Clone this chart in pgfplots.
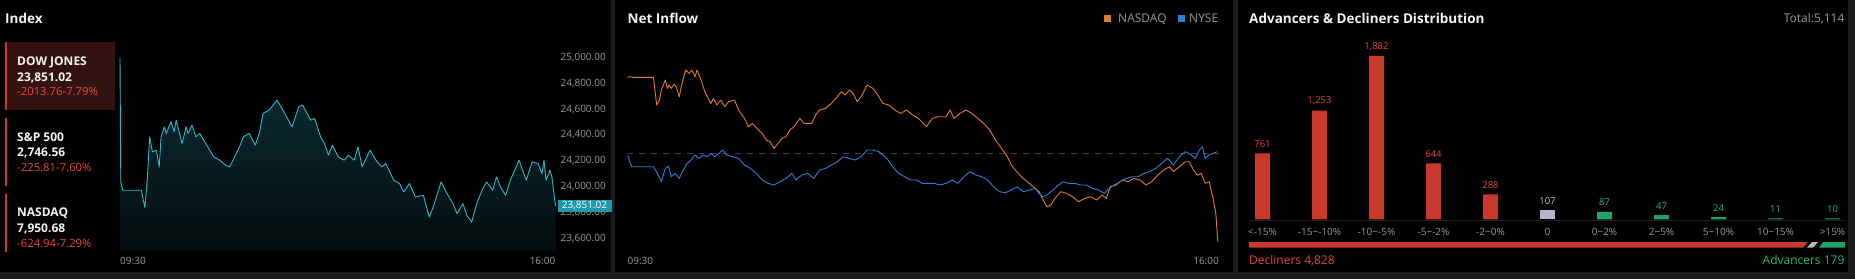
\documentclass[border=0pt]{standalone}
\usepackage{fontspec}
\setmainfont{Open Sans}
\usepackage{pgfplots}
\pgfplotsset{compat=1.18}
\usepackage{pgfplotstable}

\definecolor{sepc}{HTML}{1C1C1C}
\definecolor{titlec}{HTML}{F2F2F2}
\definecolor{tickc}{HTML}{9A9A9A}
\definecolor{redtxt}{HTML}{E5483C}
\definecolor{redbar}{HTML}{C8392B}
\definecolor{dowbg}{HTML}{331311}
\definecolor{cyanl}{HTML}{2CB8CC}
\definecolor{cyanbox}{HTML}{1A9AAB}
\definecolor{filltop}{HTML}{0C3138}
\definecolor{fillbot}{HTML}{040C0E}
\definecolor{orangel}{HTML}{E07B2C}
\definecolor{bluel}{HTML}{2A80DA}
\definecolor{greenbar}{HTML}{1FA36A}
\definecolor{greentxt}{HTML}{27B877}
\definecolor{graybar}{HTML}{B4B8C6}
\definecolor{graytxt}{HTML}{C8C8C8}
\definecolor{zeroc}{HTML}{404040}
\definecolor{basec}{HTML}{1E1E1E}

\pgfkeys{/pgf/number format/.cd, assume math mode=true, 1000 sep={,}}

% Dow Jones intraday (minutes after 09:30, index value)
\pgfplotstableread{
t v
0 25000
0.7 24037
2.5 23972
19.1 23972
22.3 23838
24.4 24050
26.6 24386
29.0 24269
32.6 24282
35.1 24153
36.8 24386
39.7 24463
41.4 24412
45.7 24502
48.5 24425
50.3 24515
55.6 24334
59.2 24463
60.9 24412
64.5 24476
68.0 24386
71.5 24412
76.9 24334
83.9 24231
89.3 24205
94.6 24166
98.1 24153
103.4 24244
107.0 24308
110.5 24386
115.8 24412
121.1 24321
124.7 24412
128.2 24567
133.5 24593
140.6 24670
145.9 24593
154.1 24463
160.1 24619
163.6 24631
170.7 24515
174.3 24528
179.6 24386
183.1 24334
186.7 24244
190.2 24321
195.5 24231
200.8 24205
204.4 24244
209.7 24205
213.2 24308
216.8 24153
223.9 24282
229.2 24205
234.5 24153
238.0 24179
245.1 24050
250.4 24024
254.0 23959
259.3 24024
264.6 23920
271.7 23933
277.0 23765
280.5 23843
287.6 24037
292.9 23946
298.2 23869
301.8 23791
307.1 23869
310.6 23778
314.9 23726
319.5 23869
324.8 23985
328.3 24037
333.7 23972
337.2 24076
340.7 23998
345.3 23933
349.6 24050
357.4 24205
363.8 24050
369.1 24192
374.4 24179
377.9 24101
379.7 24205
381.5 24050
385.0 24127
386.8 24076
390 23851.02
}\dowdata

% Net inflow NASDAQ
\pgfplotstableread{
t v
0 76.3
1.6 77.0
4.2 76.3
17.2 76.3
19.3 48.7
21.1 53.7
22.4 63.7
25.0 73.7
26.3 65.3
27.6 68.7
28.9 65.3
30.8 69.7
32.3 66.3
34.2 57.0
35.5 67.0
37.5 78.7
38.6 83.7
40.7 80.3
42.5 83.7
44.6 77.0
45.9 83.7
48.5 73.7
51.1 62.0
55.0 50.3
56.8 55.3
58.9 48.7
61.5 53.7
64.1 47.0
66.7 52.0
70.6 53.7
73.3 43.7
77.2 35.3
79.8 27.0
82.4 30.3
86.3 23.7
88.9 20.3
91.5 13.7
94.1 12.0
96.7 5.3
99.3 10.3
101.9 15.3
104.5 17.0
107.1 23.7
109.8 27.0
113.7 35.3
116.3 30.3
118.9 30.3
121.5 30.3
124.1 38.7
126.7 43.7
130.6 45.3
134.5 50.3
138.4 57.0
141.0 62.0
143.6 58.7
146.3 63.7
148.9 60.3
151.5 52.0
154.1 57.0
158.0 68.7
161.9 65.3
165.8 57.0
168.4 50.3
172.3 48.7
176.2 43.7
180.1 40.3
184.1 43.7
188.0 38.7
191.9 35.3
197.1 27.0
201.0 35.3
204.9 37.0
210.1 37.0
212.7 43.7
215.3 35.3
219.2 40.3
223.2 43.7
227.1 40.3
231.0 35.3
234.9 30.3
238.8 23.7
242.7 13.7
246.6 5.3
250.5 -3.0
253.1 -11.3
255.7 -16.3
259.7 -23.0
263.6 -28.0
267.5 -33.0
271.4 -38.0
274.0 -46.3
276.6 -53.0
279.2 -51.3
281.8 -44.7
285.7 -38.0
289.6 -39.7
293.5 -43.0
297.5 -48.0
301.4 -44.7
305.3 -43.0
309.2 -46.3
313.1 -41.3
315.7 -44.7
318.3 -33.0
322.2 -31.3
326.1 -26.3
330.0 -28.0
334.0 -24.7
337.9 -26.3
341.8 -31.3
345.7 -28.0
349.6 -21.3
353.5 -16.3
357.4 -13.0
360.0 -18.0
363.9 -13.0
367.8 -8.0
370.4 -8.0
373.1 -16.3
375.7 -21.3
378.3 -19.7
380.9 -29.7
383.5 -28.0
386.1 -44.7
387.9 -59.7
389.2 -88.0
}\nasdaqdata

% Net inflow NYSE
\pgfplotstableread{
t v
0 -1.3
2.9 -13.0
17.2 -13.0
19.8 -19.7
22.4 -28.0
25.0 -14.7
27.1 -12.3
28.9 -23.0
31.5 -19.7
34.2 -24.7
36.8 -16.3
39.4 -9.7
42.0 -6.3
44.6 -1.3
47.2 -4.7
49.8 -1.3
52.4 -3.0
55.0 0.3
57.6 -3.0
60.2 0.3
62.8 3.7
65.4 -1.3
69.3 -3.0
73.3 -4.7
77.2 -11.3
81.1 -14.7
85.0 -19.7
88.9 -26.3
92.8 -29.7
96.7 -31.3
100.6 -28.0
104.5 -24.7
108.5 -19.7
111.1 -26.3
115.0 -21.3
118.9 -19.7
122.8 -24.7
126.7 -16.3
130.6 -14.7
134.5 -11.3
138.4 -8.0
142.3 -3.0
146.3 -4.7
150.2 -6.3
154.1 -3.0
158.0 3.7
161.9 3.7
165.8 2.0
171.0 -4.7
174.9 -13.0
178.8 -19.7
182.8 -23.0
186.7 -26.3
190.6 -26.3
194.5 -29.7
198.4 -29.7
202.3 -29.7
206.2 -31.3
210.1 -29.7
214.0 -26.3
217.9 -29.7
221.9 -23.0
225.8 -18.0
229.7 -21.3
233.6 -23.0
237.5 -26.3
241.4 -33.0
245.3 -38.0
249.2 -39.0
253.1 -36.3
257.0 -33.0
261.0 -38.0
264.9 -36.3
268.8 -34.7
271.4 -39.7
274.0 -43.0
276.6 -41.3
280.5 -36.3
284.4 -31.3
287.0 -28.0
290.9 -29.7
294.8 -29.7
298.8 -31.3
302.7 -31.3
306.6 -34.7
310.5 -36.3
314.4 -39.7
317.5 -34.7
320.9 -31.3
324.8 -28.0
328.7 -24.7
332.7 -23.0
336.6 -23.0
340.5 -19.7
344.4 -18.0
348.3 -14.7
352.2 -9.7
356.1 -4.7
360.0 -11.3
363.9 -3.0
367.8 2.0
371.8 -1.3
374.4 -4.7
377.0 3.7
379.1 7.0
380.9 -4.7
383.5 -1.3
386.1 0.3
388.7 2.0
}\nysedata

\begin{document}
\begin{tikzpicture}
\useasboundingbox (0pt,0pt) rectangle (1855pt,-279pt);
\fill[sepc] (0pt,0pt) rectangle (1855pt,-279pt);
\fill[black] (0pt,0pt) rectangle (611pt,-272pt);
\fill[black] (615pt,0pt) rectangle (1233pt,-272pt);
\fill[black] (1238pt,0pt) rectangle (1848pt,-272pt);

\tikzset{
  lbl/.style={inner sep=0pt, anchor=base west},
  ttl/.style={lbl, text=titlec, font=\fontsize{13.5}{16}\selectfont\bfseries},
  nm/.style={lbl, text=titlec, font=\fontsize{12}{14}\selectfont\bfseries},
  chg/.style={lbl, text=redtxt, font=\fontsize{11.3}{14}\selectfont},
}

% ---------------- Panel 1: Index ----------------
\node[ttl] at (5pt,-23pt) {Index};
\fill[dowbg] (5pt,-42pt) rectangle (115pt,-110pt);
\fill[redbar] (5pt,-42pt) rectangle (7pt,-110pt);
\fill[redbar] (5pt,-118pt) rectangle (7pt,-186pt);
\fill[redbar] (5pt,-194pt) rectangle (7pt,-252pt);
\node[nm] at (17pt,-65pt) {DOW JONES};
\node[nm] at (17pt,-81pt) {23,851.02};
\node[chg] at (17pt,-95.7pt) {-2013.76-7.79\%};
\node[nm] at (17pt,-141pt) {S\&P 500};
\node[nm] at (17pt,-156.6pt) {2,746.56};
\node[chg] at (17pt,-171.3pt) {-225.81-7.60\%};
\node[nm] at (17pt,-216.5pt) {NASDAQ};
\node[nm] at (17pt,-232.6pt) {7,950.68};
\node[chg] at (17pt,-247.3pt) {-624.94-7.29\%};

\begin{axis}[
  at={(120pt,-251.25pt)}, anchor=south west,
  scale only axis, width=435.5pt, height=206.7pt,
  xmin=0, xmax=390, ymin=23500, ymax=25100,
  axis line style={draw=none}, major tick length=0pt,
  clip=false,
  scaled y ticks=false,
  ytick={23600,23800,...,25000},
  yticklabel pos=right,
  yticklabel style={anchor=east, inner sep=0pt, xshift=50.5pt, text=tickc,
    font=\fontsize{10}{12}\selectfont,
    /pgf/number format/.cd, fixed, fixed zerofill, precision=2, 1000 sep={,}},
  xtick={0}, xticklabels={09:30},
  xticklabel style={anchor=base west, inner sep=0pt, yshift=-13.35pt, text=tickc,
    font=\fontsize{10}{12}\selectfont},
  extra x ticks={390}, extra x tick labels={16:00},
  extra x tick style={xticklabel style={anchor=base east}, major tick length=0pt},
]
\addplot[draw=none, top color=filltop, bottom color=fillbot]
  table[x=t,y=v]{\dowdata} -- (axis cs:390,23500) -- (axis cs:0,23500) -- cycle;
\addplot[cyanl, line width=0.9pt, line join=round] table[x=t,y=v]{\dowdata};
\node[fill=cyanbox, text=white, inner sep=0pt, minimum width=54pt, minimum height=12pt,
  anchor=west, font=\fontsize{10}{12}\selectfont]
  at ([xshift=1.8pt]axis cs:390,23851.02) {23,851.02};
\end{axis}

% ---------------- Panel 2: Net Inflow ----------------
\node[ttl] at (627.4pt,-23pt) {Net Inflow};
\fill[orangel] (1104pt,-15pt) rectangle (1111pt,-22pt);
\node[lbl, text=tickc, font=\fontsize{12}{14}\selectfont] at (1118pt,-22.5pt) {NASDAQ};
\fill[bluel] (1178pt,-15pt) rectangle (1185pt,-22pt);
\node[lbl, text=tickc, font=\fontsize{12}{14}\selectfont] at (1189pt,-22.5pt) {NYSE};

\begin{axis}[
  at={(627.4pt,-253.7pt)}, anchor=south west,
  scale only axis, width=591.6pt, height=220pt,
  xmin=0, xmax=390, ymin=-100, ymax=120,
  axis line style={draw=none}, major tick length=0pt,
  ytick=\empty,
  xtick={0}, xticklabels={09:30},
  xticklabel style={anchor=base west, inner sep=0pt, yshift=-10.9pt, text=tickc,
    font=\fontsize{10}{12}\selectfont},
  extra x ticks={390}, extra x tick labels={16:00},
  extra x tick style={xticklabel style={anchor=base east}, major tick length=0pt},
]
\addplot[zeroc, line width=0.8pt, dash pattern=on 6pt off 6pt] coordinates {(0,0) (390,0)};
\addplot[orangel, line width=0.9pt, line join=round] table[x=t,y=v]{\nasdaqdata};
\addplot[bluel, line width=0.9pt, line join=round] table[x=t,y=v]{\nysedata};
\end{axis}

% ---------------- Panel 3: Advancers & Decliners ----------------
\node[ttl] at (1249pt,-23pt) {Advancers \& Decliners Distribution};
\node[inner sep=0pt, anchor=base east, text=tickc, font=\fontsize{12}{14}\selectfont] at (1844.6pt,-22.5pt) {Total:5,114};
\draw[basec, line width=1pt] (1249pt,-220pt) -- (1845pt,-220pt);

\begin{axis}[
  at={(1234pt,-219.3pt)}, anchor=south west,
  scale only axis, width=627pt, height=190.9pt,
  xmin=-0.5, xmax=10.5, ymin=0, ymax=2200,
  axis line style={draw=none}, major tick length=0pt,
  ytick=\empty,
  xtick={0,...,10},
  xticklabels={{<-15\%},{-15\textasciitilde-10\%},{-10\textasciitilde-5\%},{-5\textasciitilde-2\%},{-2\textasciitilde0\%},{0},{0\textasciitilde2\%},{2\textasciitilde5\%},{5\textasciitilde10\%},{10\textasciitilde15\%},{>15\%}},
  xticklabel style={anchor=base, inner sep=0pt, yshift=-16.5pt, text=tickc,
    font=\fontsize{10}{12}\selectfont},
  ybar, bar width=15pt,
  nodes near coords,
  every node near coord/.append style={font=\fontsize{9.5}{11}\selectfont, inner sep=0pt, anchor=south, yshift=5.5pt},
  clip=false,
]
\addplot[fill=redbar, draw=none, bar shift=0pt, every node near coord/.append style={text=redtxt}]
  coordinates {(0,761) (1,1253) (2,1882) (3,644) (4,288)};
\addplot[fill=graybar, draw=none, bar shift=0pt, every node near coord/.append style={text=graytxt}]
  coordinates {(5,107)};
\addplot[fill=greenbar, draw=none, bar shift=0pt, every node near coord/.append style={text=greentxt}]
  coordinates {(6,87) (7,47) (8,24) (9,11) (10,10)};
\end{axis}

% proportion bar: decliners 4828, unchanged 107, advancers 179
\begin{axis}[
  at={(1249pt,-247.5pt)}, anchor=south west,
  scale only axis, width=596pt, height=5.5pt,
  xmin=0, xmax=5114, ymin=0, ymax=1,
  hide axis, clip=false,
]
\fill[redbar] (axis cs:0,0) -- ([xshift=-8.6pt]axis cs:4828,0) -- ([xshift=-3.6pt]axis cs:4828,1) -- (axis cs:0,1) -- cycle;
\fill[graybar] ([xshift=-4.6pt]axis cs:4828,0) -- ([xshift=-11.1pt]axis cs:4935,0) -- ([xshift=-6.1pt]axis cs:4935,1) -- ([xshift=0.4pt]axis cs:4828,1) -- cycle;
\fill[greenbar] ([xshift=-5.1pt]axis cs:4935,0) -- (axis cs:5114,0) -- (axis cs:5114,1) -- ([xshift=-1.1pt]axis cs:4935,1) -- cycle;
\end{axis}
\node[lbl, text=redtxt, font=\fontsize{12}{14}\selectfont] at (1249pt,-264.3pt) {Decliners 4,828};
\node[inner sep=0pt, anchor=base east, text=greentxt, font=\fontsize{12}{14}\selectfont] at (1844.6pt,-264.3pt) {Advancers 179};

\end{tikzpicture}
\end{document}
